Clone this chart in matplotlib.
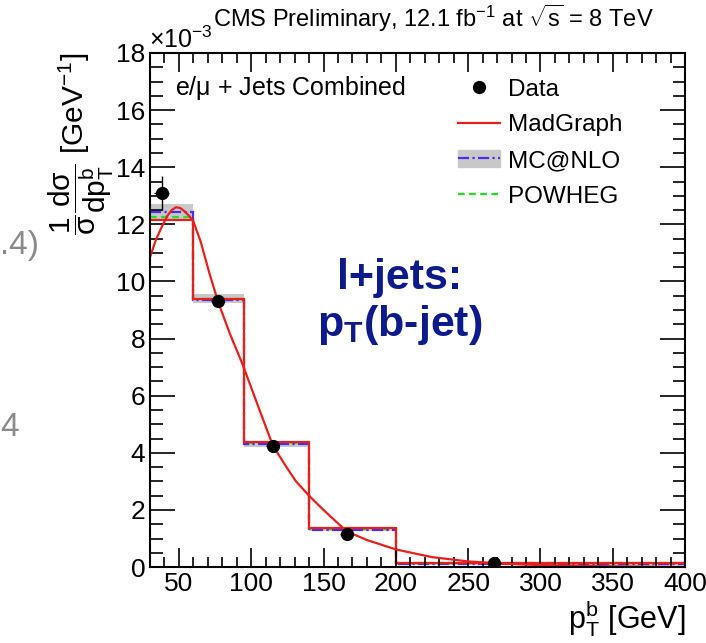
#!/usr/bin/env python3

import matplotlib.pyplot as plt
from matplotlib.lines import Line2D
from matplotlib.patches import Patch
from matplotlib.ticker import MultipleLocator

plt.rcParams['font.family'] = ['Liberation Sans', 'DejaVu Sans']
plt.rcParams['mathtext.fontset'] = 'custom'
plt.rcParams['mathtext.rm'] = 'Liberation Sans'
plt.rcParams['mathtext.it'] = 'Liberation Sans'
plt.rcParams['mathtext.bf'] = 'Liberation Sans:bold'

# bin edges in GeV, values in units of 1e-3 GeV^-1
edges = [30, 60, 95, 140, 200, 400]
madgraph = [12.15, 9.4, 4.37, 1.36, 0.14]
mcatnlo = [12.45, 9.35, 4.30, 1.30, 0.12]
mcatnlo_lo = [12.2, 9.25, 4.22, 1.25, 0.09]
mcatnlo_hi = [12.72, 9.55, 4.40, 1.36, 0.16]
powheg = [12.25, 9.38, 4.35, 1.33, 0.15]

data_x = [38, 77, 115, 166, 268]
data_y = [13.1, 9.3, 4.23, 1.15, 0.14]
data_xerr = [5, 4.5, 4.5, 4.5, 4.5]
data_yerr = [0.6, 0.12, 0.08, 0.05, 0.02]

# MadGraph smooth curve
curve_x = [30, 34, 38, 42, 45, 48, 51, 54, 57, 60, 65, 71, 77, 85, 94, 105, 115,
           125, 131, 140, 150, 166, 180, 200, 225, 250, 275, 300, 350, 400]
curve_y = [10.85, 11.45, 11.9, 12.3, 12.5, 12.6, 12.57, 12.45, 12.3, 12.1, 11.4,
           10.3, 9.3, 8.2, 7.1, 5.6, 4.25, 3.45, 3.0, 2.5, 2.0, 1.25, 0.95, 0.62,
           0.35, 0.2, 0.12, 0.07, 0.03, 0.01]

fig = plt.figure(figsize=(7.06, 6.43), dpi=100)
ax = fig.add_axes([0.2125, 0.118, 0.7578, 0.7996])

ax.stairs(mcatnlo_hi, edges, baseline=mcatnlo_lo, fill=True, color='#c8c8c8', lw=0)
ax.stairs(powheg, edges, baseline=None, color='#22dd22', lw=1.6, ls=(0, (3, 2)))
ax.stairs(mcatnlo, edges, baseline=None, color='#4a2cf0', lw=1.6, ls=(0, (5, 1.5, 1, 1.5)))
ax.stairs(madgraph, edges, baseline=None, color='#e8201c', lw=1.6)
ax.plot(curve_x, curve_y, color='#e8201c', lw=1.6)
ax.errorbar(data_x, data_y, xerr=data_xerr, yerr=data_yerr, fmt='o', color='black',
            ms=8.5, elinewidth=1.0, capsize=0, zorder=5)

ax.set_xlim(30, 400)
ax.set_ylim(0, 18)
ax.xaxis.set_major_locator(MultipleLocator(50))
ax.xaxis.set_minor_locator(MultipleLocator(10))
ax.yaxis.set_major_locator(MultipleLocator(2))
ax.yaxis.set_minor_locator(MultipleLocator(0.5))
ax.tick_params(which='both', direction='in', top=True, right=True, labelsize=19, width=1.2)
ax.tick_params(which='major', length=14)
ax.tick_params(which='minor', length=7)
ax.tick_params(axis='y', which='major', length=18)
ax.tick_params(axis='y', which='minor', length=9)
for s in ax.spines.values():
    s.set_linewidth(1.5)

ax.set_xlabel(r'$\mathregular{p_{T}^{b}}$ [GeV]', fontsize=22, loc='right', labelpad=2)
ax.set_ylabel(r'$\mathregular{\dfrac{1}{\sigma}\dfrac{d\sigma}{dp_{T}^{b}}}$ [GeV$^{\mathregular{-1}}$]',
              fontsize=21.5, loc='top', labelpad=0)

fig.text(0.211, 0.925, r'$\mathregular{\times10^{-3}}$', fontsize=18, ha='left', va='baseline')
fig.text(0.614, 0.972, r'CMS Preliminary, 12.1 fb$^{\mathregular{-1}}$ at $\mathregular{\sqrt{s}}$ = 8 TeV',
         fontsize=17, ha='center', va='center')
ax.text(0.047, 0.932, r'e/$\mathregular{\mu}$ + Jets Combined', transform=ax.transAxes,
        fontsize=18, ha='left', va='center')
ax.text(0.467, 0.515, 'l+jets:\n' + r'$\mathbf{p_{T}}$(b-jet)', transform=ax.transAxes,
        fontsize=31, fontweight='bold', color='#0d1a8c', ha='center', va='center',
        linespacing=1.15)

handles = [
    Line2D([], [], ls='none', marker='o', color='black', ms=8.5),
    Line2D([], [], color='#e8201c', lw=1.6),
    (Patch(color='#c8c8c8'), Line2D([], [], color='#4a2cf0', lw=1.6, ls=(0, (5, 1.5, 1, 1.5)))),
    Line2D([], [], color='#22dd22', lw=1.6, ls=(0, (3, 2))),
]
ax.legend(handles, ['Data', 'MadGraph', 'MC@NLO', 'POWHEG'], loc='upper left',
          bbox_to_anchor=(0.576, 0.950), frameon=False, fontsize=17.5, handlelength=1.72,
          handletextpad=0.33, labelspacing=0.56, borderpad=0, borderaxespad=0)

# slide fragments around the plot
fig.text(0.0, 0.618, '.4)', fontsize=24, color='#8a8a8a', ha='left', va='center')
fig.text(0.0, 0.335, '4', fontsize=24, color='#8a8a8a', ha='left', va='center')

fig.savefig('out.png', dpi=100)
